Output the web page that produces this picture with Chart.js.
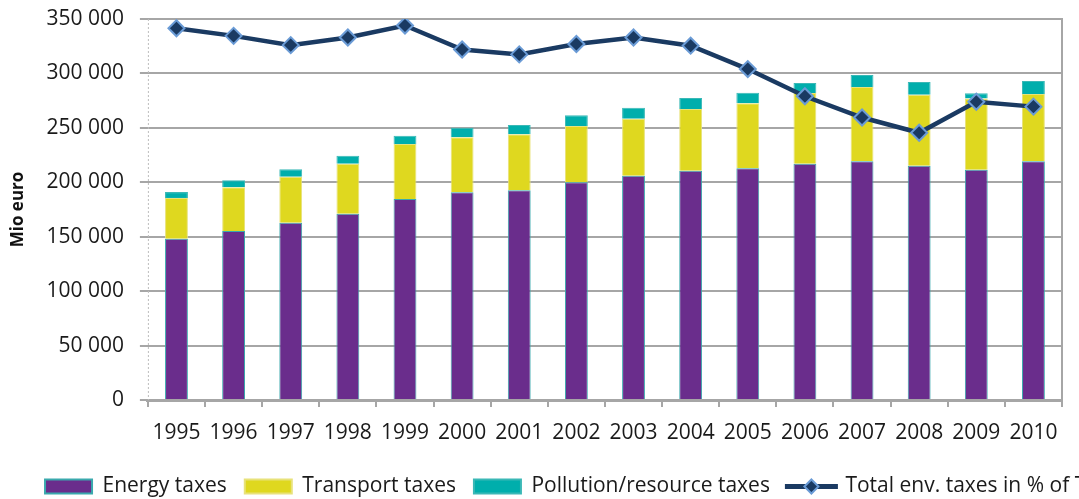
<!DOCTYPE html>
<html>
<head>
<meta charset="utf-8">
<script src="https://cdn.jsdelivr.net/npm/chart.js@4/dist/chart.umd.min.js"></script>
<style>
  html, body { margin: 0; padding: 0; background: #fff; overflow: hidden; }
  #wrap { width: 1079px; height: 499px; overflow: hidden; }
</style>
</head>
<body>
<div id="wrap"><canvas id="taxChart" width="1150" height="507"></canvas></div>
<script>
// Years on the x axis
const years = ["1995", "1996", "1997", "1998", "1999", "2000", "2001", "2002",
  "2003", "2004", "2005", "2006", "2007", "2008", "2009", "2010"];

// Tax revenue, Mio euro
const energyTaxes = [148200, 155200, 162900, 171100, 184600, 190800, 192600, 200000,
  206000, 210600, 212800, 217100, 219300, 215200, 211600, 219300];
const transportTaxes = [37400, 40200, 42200, 46000, 50600, 50500, 51500, 51700,
  52400, 56700, 59700, 64900, 68200, 65200, 65400, 61700];
const pollutionTaxes = [5400, 6400, 6800, 7300, 7600, 8800, 8500, 9800,
  10100, 10100, 9800, 9200, 11000, 11700, 4700, 12000];

// Total environmental taxes, % (right-hand axis)
const totalShare = [6.83, 6.69, 6.52, 6.66, 6.88, 6.44, 6.35, 6.54,
  6.66, 6.51, 6.08, 5.58, 5.19, 4.91, 5.48, 5.39];

const font = "'Open Sans', sans-serif";
const gridGrey = "#a6a6a6";
const lineColor = "#1a3a62";
const markerEdge = "#6a9bd6";

// faint dotted line for the left axis, and the legend symbol for the line series
const extras = {
  id: "extras",
  beforeDatasetsDraw(chart) {
    const { ctx: c, chartArea } = chart;
    c.save();
    c.strokeStyle = "#bdbdbd";
    c.lineWidth = 1;
    c.setLineDash([2, 2]);
    c.beginPath();
    c.moveTo(chartArea.left + 0.5, chartArea.top);
    c.lineTo(chartArea.left + 0.5, chartArea.bottom);
    c.stroke();
    c.restore();
  },
  afterDraw(chart) {
    const legend = chart.legend;
    const idx = legend.legendItems.findIndex(it => it.datasetIndex === 3);
    const hb = legend.legendHitBoxes[idx];
    if (!hb) return;
    const c = chart.ctx;
    const w = legend.options.labels.boxWidth;
    const y = hb.top + hb.height / 2;
    const xm = hb.left + w / 2;
    c.save();
    c.strokeStyle = lineColor;
    c.lineWidth = 5;
    c.beginPath();
    c.moveTo(hb.left - 3, y);
    c.lineTo(hb.left + w + 3, y);
    c.stroke();
    c.beginPath();
    c.moveTo(xm, y - 7);
    c.lineTo(xm + 7, y);
    c.lineTo(xm, y + 7);
    c.lineTo(xm - 7, y);
    c.closePath();
    c.fillStyle = lineColor;
    c.fill();
    c.lineWidth = 2;
    c.strokeStyle = markerEdge;
    c.stroke();
    c.restore();
  }
};

const ctx = document.getElementById("taxChart").getContext("2d");

new Chart(ctx, {
  type: "bar",
  data: {
    labels: years,
    datasets: [
      {
        label: "Energy taxes",
        data: energyTaxes,
        backgroundColor: "#6a2d8c",
        borderColor: "#3aa9ad",
        borderWidth: 1,
        barPercentage: 0.8,
        categoryPercentage: 0.5,
        order: 1
      },
      {
        label: "Transport taxes",
        data: transportTaxes,
        backgroundColor: "#dfd81f",
        borderColor: "#e8e27a",
        borderWidth: 1,
        barPercentage: 0.8,
        categoryPercentage: 0.5,
        order: 1
      },
      {
        label: "Pollution/resource taxes",
        data: pollutionTaxes,
        backgroundColor: "#00aeac",
        borderColor: "#3ab8b6",
        borderWidth: 1,
        barPercentage: 0.8,
        categoryPercentage: 0.5,
        order: 1
      },
      {
        type: "line",
        label: "Total env. taxes in % of TSC",
        data: totalShare,
        yAxisID: "y2",
        borderColor: lineColor,
        backgroundColor: lineColor,
        borderWidth: 4.5,
        pointStyle: "rectRot",
        pointRadius: 8,
        pointBackgroundColor: lineColor,
        pointBorderColor: markerEdge,
        pointBorderWidth: 2,
        tension: 0,
        order: 0
      }
    ]
  },
  options: {
    responsive: false,
    animation: false,
    layout: { padding: { top: 19, right: 0, left: 6, bottom: 0 } },
    plugins: {
      legend: {
        position: "bottom",
        labels: {
          color: "#1a1a1a",
          font: { family: font, size: 21 },
          boxWidth: 47,
          boxHeight: 14,
          padding: 18,
          sort: (a, b) => a.datasetIndex - b.datasetIndex,
          generateLabels(chart) {
            const items = Chart.defaults.plugins.legend.labels.generateLabels(chart);
            items.forEach(it => {
              if (it.datasetIndex === 3) {
                it.fillStyle = "rgba(0,0,0,0)";
                it.strokeStyle = "rgba(0,0,0,0)";
                it.lineWidth = 0;
              } else {
                it.lineWidth = 2;
              }
            });
            return items;
          }
        }
      },
      tooltip: { enabled: false }
    },
    scales: {
      x: {
        stacked: true,
        offset: true,
        afterFit(scale) { scale.height = 58; },
        grid: {
          offset: true,
          drawOnChartArea: false,
          color: gridGrey,
          lineWidth: 2,
          tickLength: 7
        },
        border: { color: gridGrey, width: 3 },
        ticks: {
          color: "#1a1a1a",
          font: { family: font, size: 21 },
          padding: 13,
          maxRotation: 0
        }
      },
      y: {
        stacked: true,
        min: 0,
        max: 350000,
        grid: { color: gridGrey, lineWidth: 2, tickLength: 8 },
        border: { display: false },
        ticks: {
          stepSize: 50000,
          color: "#1a1a1a",
          font: { family: font, size: 21, lineHeight: 0.25 },
          padding: 16,
          callback: v => v.toLocaleString("en-US").replace(/,/g, " ")
        },
        title: {
          display: true,
          text: "Mio euro",
          color: "#111",
          font: { family: font, size: 17, weight: "bold" },
          padding: { top: 2, bottom: 2 }
        }
      },
      y2: {
        position: "right",
        min: 0,
        max: 7,
        afterFit(scale) { scale.width = 88; },
        grid: { drawOnChartArea: false, drawTicks: false },
        border: { color: gridGrey, width: 2 },
        ticks: { display: false }
      }
    }
  },
  plugins: [extras]
});
</script>
</body>
</html>
